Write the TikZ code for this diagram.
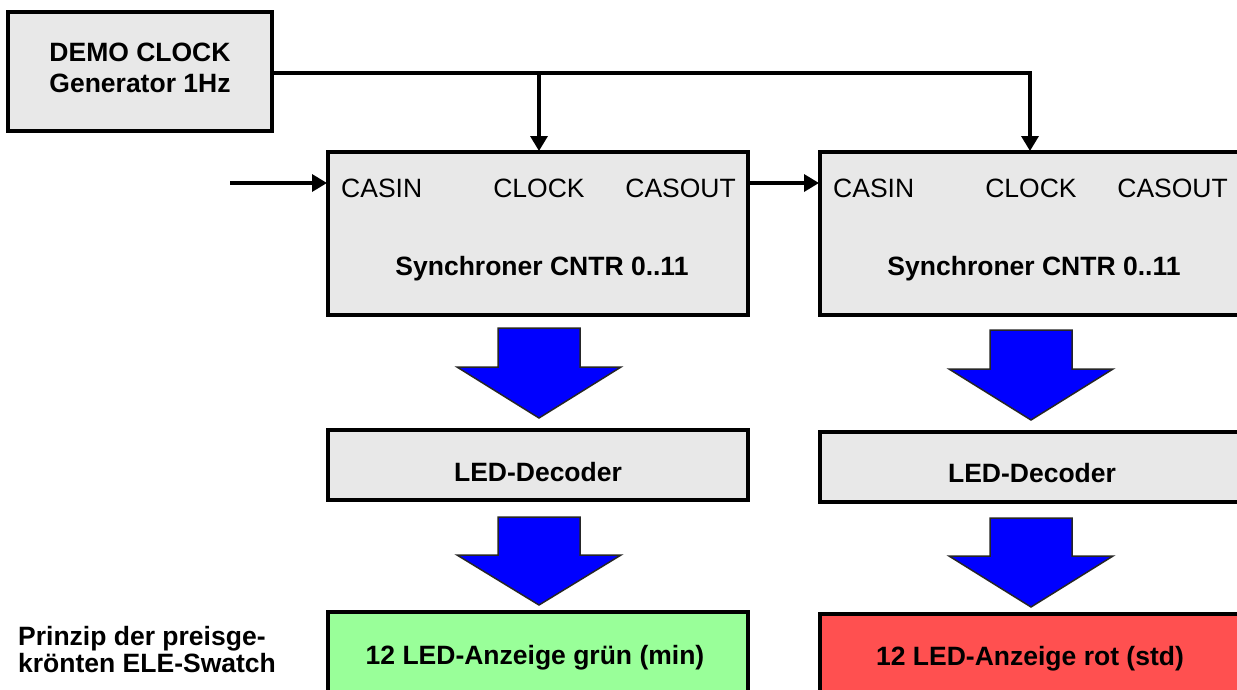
\documentclass[tikz,border=0pt]{standalone}
\usepackage{fontspec}
\setmainfont{Liberation Sans}
\usetikzlibrary{arrows.meta}
\definecolor{boxgray}{RGB}{232,232,232}
\definecolor{ledgreen}{RGB}{153,255,153}
\definecolor{ledred}{RGB}{255,80,80}
\definecolor{arrowblue}{RGB}{0,0,255}
\newcommand\blkarrow[4]{%
  \filldraw[fill=arrowblue, draw=black!85, line width=1.5pt, line join=miter]
    (#1-41,#2) -- (#1+41,#2) -- (#1+41,#3) -- (#1+82,#3) -- (#1,#4)
    -- (#1-82,#3) -- (#1-41,#3) -- cycle;}
\begin{document}
\begin{tikzpicture}[x=1pt,y=-1pt,
  box/.style={draw=black, line width=4pt, fill=boxgray, inner sep=0pt},
  wire/.style={line width=3.4pt},
  conn/.style={line width=3.4pt, -{Triangle[length=15pt,width=17pt]}},
  lbl/.style={font=\fontsize{26.5}{28}\selectfont, inner sep=0pt, text height=19pt, text depth=0pt},
  blbl/.style={font=\bfseries\fontsize{26.5}{28}\selectfont, inner sep=0pt, text height=19pt, text depth=0pt}]
\useasboundingbox (0,0) rectangle (1237,689);
\clip (0,0) rectangle (1237,689);
\fill[white] (0,0) rectangle (1237,689);

% boxes
\node[box, minimum width=264pt, minimum height=119pt] (demo) at (140,71.5) {};
\node[box, minimum width=420pt, minimum height=163pt] (cntA) at (538,233.5) {};
\node[box, minimum width=430pt, minimum height=163pt] (cntB) at (1035,233.5) {};
\node[box, minimum width=420pt, minimum height=70pt] (decA) at (538,465) {};
\node[box, minimum width=430pt, minimum height=70pt] (decB) at (1035,467) {};
\node[box, fill=ledgreen, minimum width=420pt, minimum height=100pt] (ledA) at (538,662) {};
\node[box, fill=ledred, minimum width=430pt, minimum height=100pt] (ledB) at (1035,664) {};

% texts
\node[blbl] (demo1) at (140,52) {DEMO CLOCK};
\node[blbl] (demo2) at (140,83) {Generator 1Hz};
\node[lbl, anchor=west] (casinA) at (341,188) {CASIN};
\node[lbl] (clockA) at (539,188) {CLOCK};
\node[lbl, anchor=east] (casoutA) at (736,188) {CASOUT};
\node[lbl, anchor=west] (casinB) at (833,188) {CASIN};
\node[lbl] (clockB) at (1031,188) {CLOCK};
\node[lbl, anchor=east] (casoutB) at (1228,188) {CASOUT};
\node[blbl] (synA) at (542,266) {Synchroner CNTR 0..11};
\node[blbl] (synB) at (1034,266) {Synchroner CNTR 0..11};
\node[blbl] (decAt) at (538,472) {LED-Decoder};
\node[blbl] (decBt) at (1032,473) {LED-Decoder};
\node[blbl] (ledAt) at (535,655) {12 LED-Anzeige grün (min)};
\node[blbl] (ledBt) at (1030,656) {12 LED-Anzeige rot (std)};
\node[blbl, anchor=west] (cap1) at (18,636) {Prinzip der preisge-};
\node[blbl, anchor=west] (cap2) at (18,663) {krönten ELE-Swatch};

% clock distribution
\coordinate (clkA) at (539,151);
\coordinate (clkB) at (1030,151);
\coordinate (src) at (230,183);
\draw[wire] (demo.east |- 0,73) -- (1030,73);
\draw[conn] (539,73) -- (clkA);
\draw[conn] (1030,71.3) -- (clkB);

% cascade
\draw[conn] (src) -- (327,183);
\draw[conn] (cntA.east |- src) -- (819,183);

% block arrows
\blkarrow{539}{328}{367}{418}
\blkarrow{539}{517}{555}{605}
\blkarrow{1031}{330}{369}{420}
\blkarrow{1031}{518}{556}{607}
\end{tikzpicture}
\end{document}
